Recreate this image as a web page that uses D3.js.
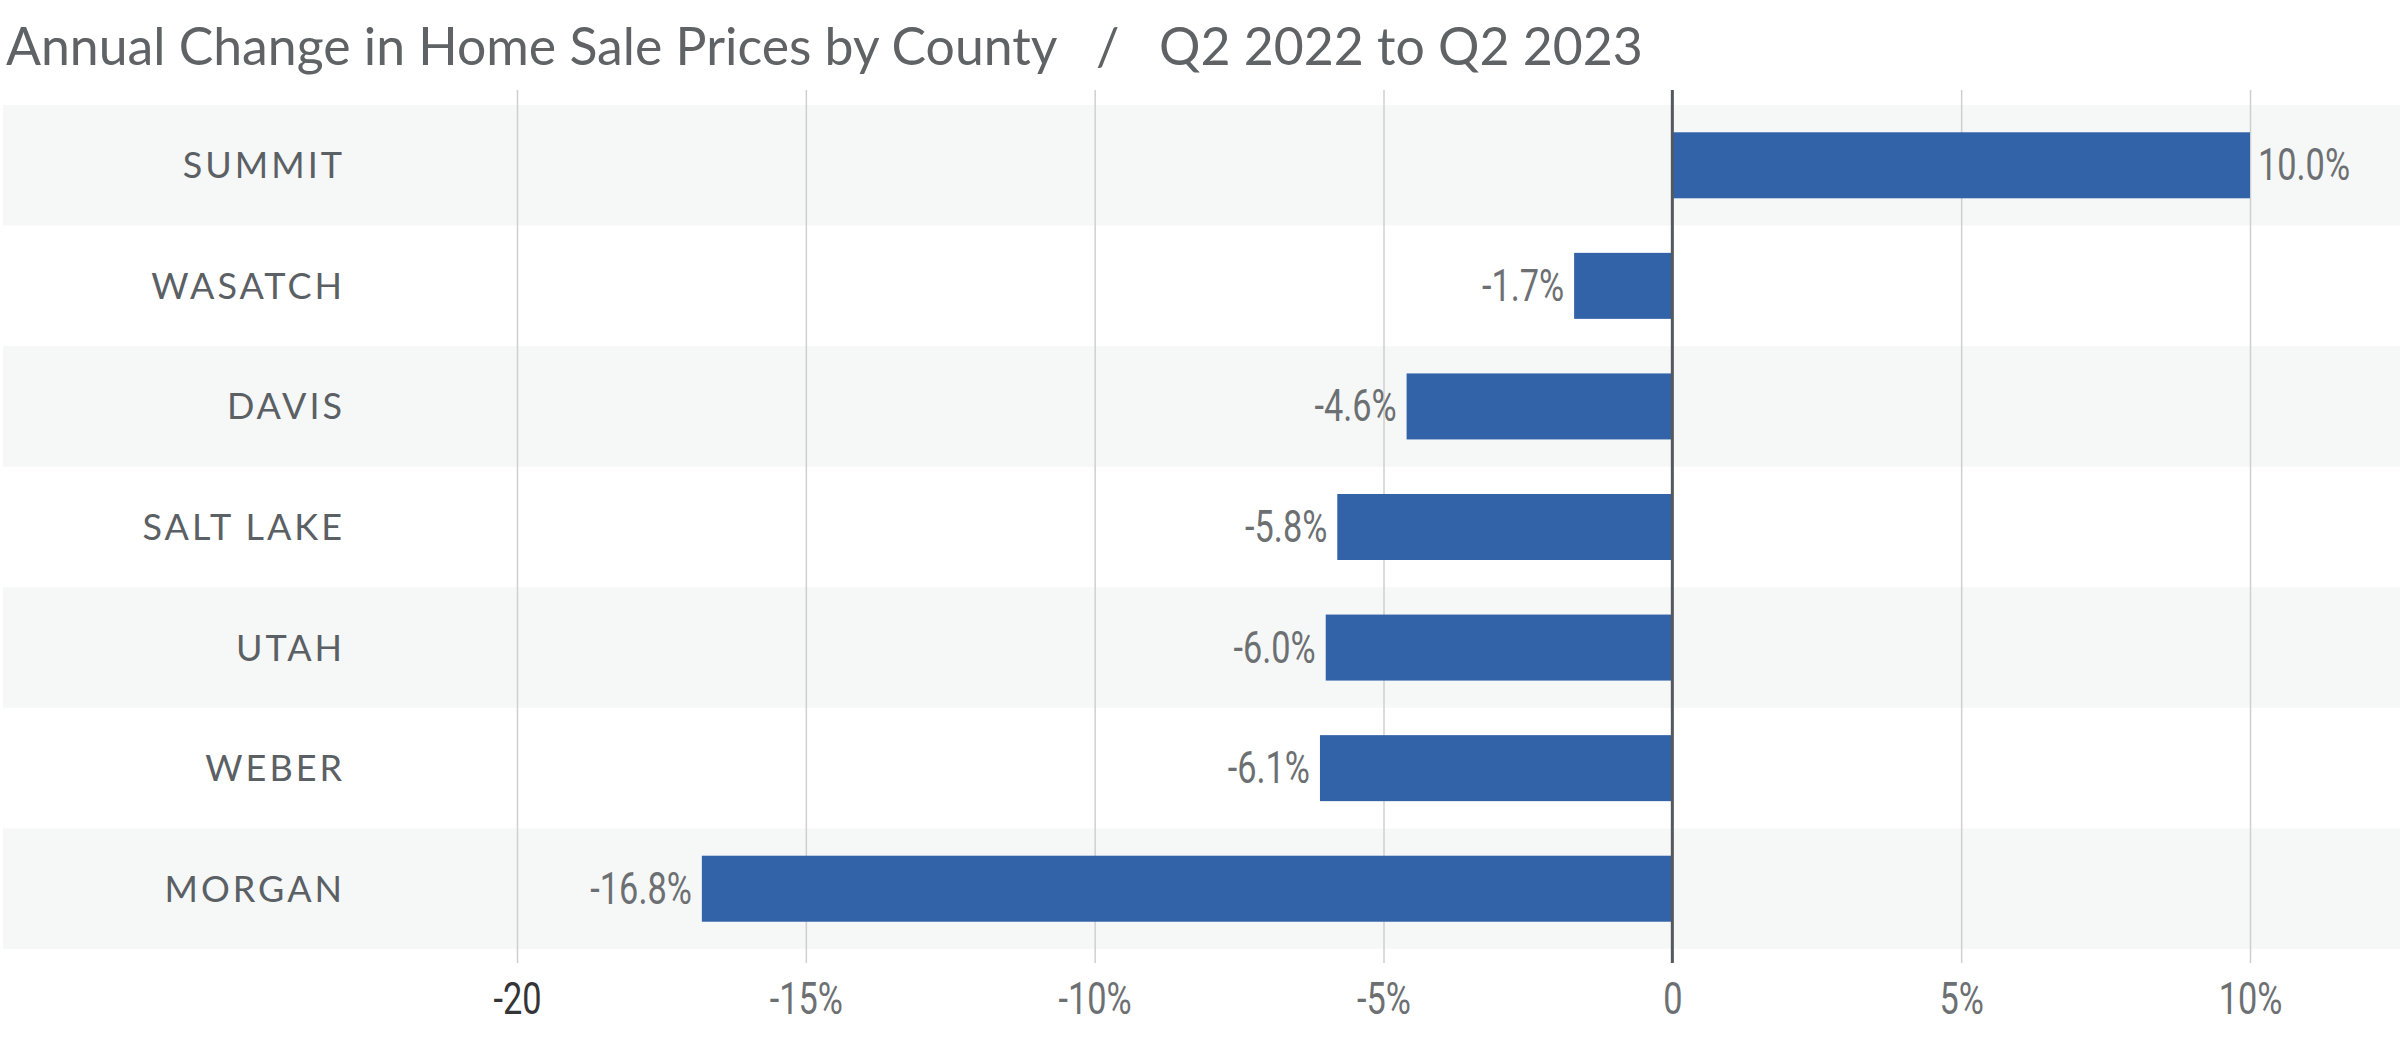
<!DOCTYPE html>
<html lang="en">
<head>
<title>Annual Change in Home Sale Prices by County</title>
<meta charset="utf-8">

<script src="https://cdn.jsdelivr.net/npm/d3@7"></script>

<style type="text/css">

body {
	margin: 0;
	background: #fff;
}

#vis svg {
	display: block;
}

</style>

</head>

<body>

<div id="vis"></div>

<script>

/* Data */
/* ==== */

var counties = ['SUMMIT', 'WASATCH', 'DAVIS', 'SALT LAKE', 'UTAH', 'WEBER', 'MORGAN'];
var changes = [10.0, -1.7, -4.6, -5.8, -6.0, -6.1, -16.8];
var tickValues = [-20, -15, -10, -5, 0, 5, 10];
var tickLabels = ['-20', '-15%', '-10%', '-5%', '0', '5%', '10%'];

var titleText = 'Annual Change in Home Sale Prices by County\u00a0\u00a0\u00a0/\u00a0\u00a0\u00a0Q2 2022 to Q2 2023';


/* Globals and SVG */
/* =============== */

var width = 2400,
		height = 1064;

var plot = { left: 517, right: 2250, top: 105, bottom: 949, gridTop: 90, gridBottom: 963 };

var condensed = 0.78; // squeeze for the narrow number labels

var svg = d3.select('#vis')
	.append('svg')
		.attr('width', width)
		.attr('height', height);

var x = d3.scaleLinear()
	.domain([-20, 10])
	.range([plot.left, plot.right]);

var y = d3.scaleBand()
	.domain(counties)
	.range([plot.top, plot.bottom]);

var data = counties.map(function(d, i) { return { county: d, value: changes[i] }; });


/* Title */
/* ===== */

var title = svg.append('text')
	.attr('x', 6)
	.attr('y', 65)
	.attr('fill', '#5f6366')
	.style('font-family', 'Lato, "Open Sans", sans-serif')
	.style('font-size', '48px')
	.text(titleText);

// fit title to the measured width
var tw = title.node().getComputedTextLength();
title.style('font-size', (48 * 1637 / tw) + 'px');


/* Row bands */
/* ========= */

svg.append('g')
	.selectAll('rect')
	.data(counties)
	.join('rect')
		.attr('x', 3)
		.attr('y', function(d) { return y(d); })
		.attr('width', width - 3)
		.attr('height', y.bandwidth())
		.attr('fill', function(d, i) { return i % 2 === 0 ? '#f6f7f7' : '#ffffff'; });


/* Grid + axis */
/* =========== */

var axis = d3.axisBottom(x)
	.tickValues(tickValues)
	.tickFormat(function(d, i) { return tickLabels[i]; })
	.tickSize(-(plot.gridBottom - plot.gridTop))
	.tickPadding(20);

var gAxis = svg.append('g')
	.attr('transform', 'translate(0,' + plot.gridBottom + ')')
	.call(axis);

gAxis.select('.domain').remove();

gAxis.selectAll('.tick line')
	.attr('stroke', '#cfcfcf')
	.attr('stroke-width', 1.5);

gAxis.selectAll('.tick text')
	.attr('fill', function(d, i) { return i === 0 ? '#333536' : '#6d7073'; })
	.attr('transform', 'scale(' + condensed + ',1)')
	.style('font-family', 'Roboto, sans-serif')
	.style('font-size', '44px');


/* Bars */
/* ==== */

var barH = 66;

svg.append('g')
	.selectAll('rect')
	.data(data)
	.join('rect')
		.attr('x', function(d) { return x(Math.min(0, d.value)); })
		.attr('y', function(d) { return y(d.county) + (y.bandwidth() - barH) / 2; })
		.attr('width', function(d) { return Math.abs(x(d.value) - x(0)); })
		.attr('height', barH)
		.attr('fill', '#3262a8');

// zero line on top of the bars
svg.append('line')
	.attr('x1', x(0))
	.attr('x2', x(0))
	.attr('y1', plot.gridTop)
	.attr('y2', plot.gridBottom)
	.attr('stroke', '#55595d')
	.attr('stroke-width', 3);


/* Labels */
/* ====== */

svg.append('g')
	.selectAll('text')
	.data(counties)
	.join('text')
		.attr('x', 345)
		.attr('y', function(d) { return y(d) + y.bandwidth() / 2 + 13; })
		.attr('text-anchor', 'end')
		.attr('fill', '#5a6064')
		.style('font-family', 'Lato, "Open Sans", sans-serif')
		.style('font-size', '36px')
		.style('letter-spacing', '3px')
		.text(function(d) { return d; });

svg.append('g')
	.selectAll('g')
	.data(data)
	.join('g')
		.attr('transform', function(d) {
			var px = d.value >= 0 ? x(d.value) + 8 : x(d.value) - 10;
			return 'translate(' + px + ',' + (y(d.county) + y.bandwidth() / 2 + 15) + ')';
		})
	.append('text')
		.attr('transform', 'scale(' + condensed + ',1)')
		.attr('text-anchor', function(d) { return d.value >= 0 ? 'start' : 'end'; })
		.attr('fill', '#6d7073')
		.style('font-family', 'Roboto, sans-serif')
		.style('font-size', '44px')
		.text(function(d) { return d.value.toFixed(1) + '%'; });

</script>

</body>
</html>
